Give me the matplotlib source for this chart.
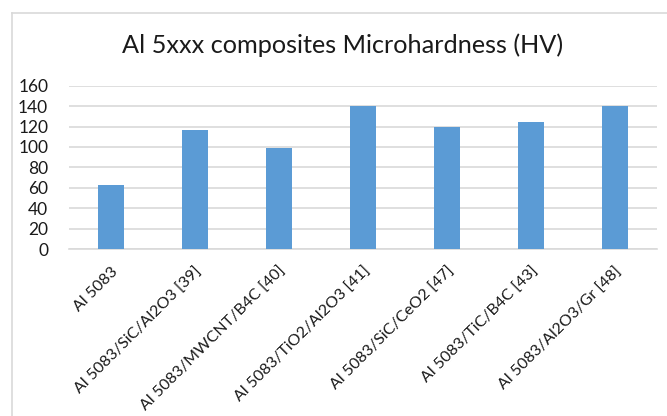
import matplotlib
matplotlib.use('Agg')
import matplotlib.pyplot as plt
from matplotlib.lines import Line2D

#-------------------------------------------------------------------------------
#Data
#-------------------------------------------------------------------------------
YV_cat=['Al 5083',
        'Al 5083/SiC/Al2O3 [39]',
        'Al 5083/MWCNT/B4C [40]',
        'Al 5083/TiO2/Al2O3 [41]',
        'Al 5083/SiC/CeO2 [47]',
        'Al 5083/TiC/B4C [43]',
        'Al 5083/Al2O3/Gr [48]']
ZV_hv=[63,117,99,140,120,124,140]
ZV_yticks=[0,20,40,60,80,100,120,140,160]

#-------------------------------------------------------------------------------
#Figure
#-------------------------------------------------------------------------------
plt.rcParams['font.family']=['Lato','DejaVu Sans']

fig=plt.figure(figsize=(6.67,4.16),dpi=100)
ax=fig.add_axes([69/667,1-249/416,(657-69)/667,(249-85.7)/416])

IV_x=range(len(YV_cat))
ax.bar(IV_x,ZV_hv,width=0.31,color='#5b9bd5',zorder=3)

ax.set_xlim(-0.5,len(YV_cat)-0.5)
ax.set_ylim(0,160)
ax.set_yticks(ZV_yticks)
ax.yaxis.grid(True,color='#d9d9d9',linewidth=1.2,zorder=0)
ax.set_axisbelow(True)
for sp in ['top','right','left']:
     ax.spines[sp].set_visible(False)
ax.spines['bottom'].set_color('#d9d9d9')
ax.spines['bottom'].set_linewidth(1.2)
ax.tick_params(axis='both',length=0,labelsize=12.5,colors='#1a1a1a')
ax.tick_params(axis='y',pad=15)

ax.set_xticks(list(IV_x))
ax.set_xticklabels(YV_cat,rotation=45,ha='right',rotation_mode='anchor',
                   fontsize=11.5)
ax.tick_params(axis='x',pad=11)

fig.text(343/667,1-45/416,'Al 5xxx composites Microhardness (HV)',ha='center',
         va='center',fontsize=18.2,color='#1a1a1a')

#Chart area border
fig.add_artist(Line2D([12/667,1],[1-13/416,1-13/416],color='#d9d9d9',
                      linewidth=1.2,transform=fig.transFigure))
fig.add_artist(Line2D([12/667,12/667],[0,1-13/416],color='#d9d9d9',
                      linewidth=1.2,transform=fig.transFigure))

plt.savefig('out.png',dpi=100)
